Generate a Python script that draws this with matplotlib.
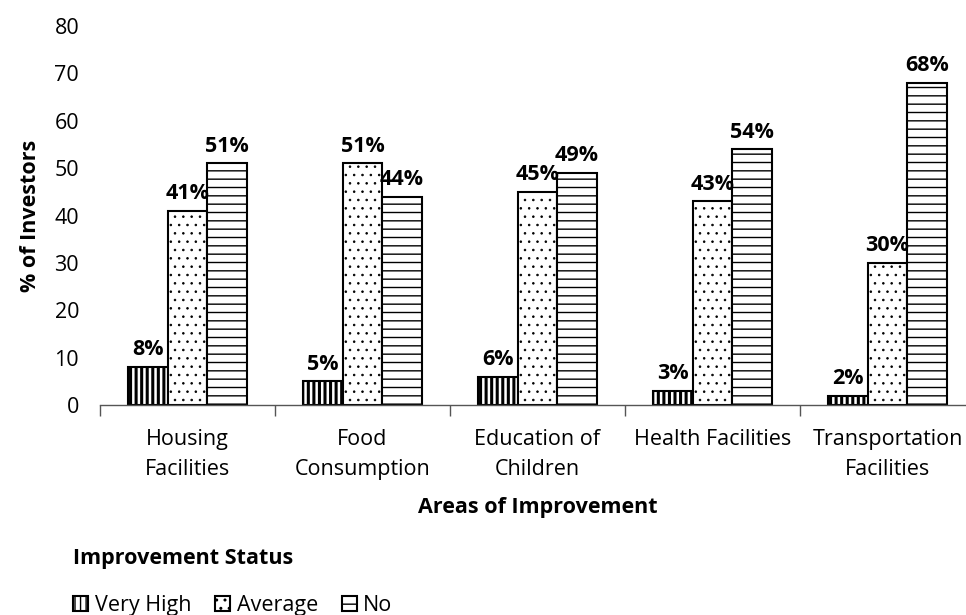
import numpy as np
import matplotlib
matplotlib.use("Agg")
import matplotlib.pyplot as plt

categories = ["Housing\nFacilities", "Food\nConsumption", "Education of\nChildren",
              "Health Facilities", "Transportation\nFacilities"]
very_high = [8, 5, 6, 3, 2]
average = [41, 51, 45, 43, 30]
no = [51, 44, 49, 54, 68]
series_names = ["Very High", "Average", "No"]

plt.rcParams["font.family"] = ["Open Sans", "DejaVu Sans"]
FS = 15.5

W, H = 966, 615
fig = plt.figure(figsize=(W / 100, H / 100), dpi=100)
ax = fig.add_axes([100 / W, (H - 405) / H, 875 / W, (405 - 26) / H])

x = np.arange(len(categories))
bw = 0.225
styles = [("|||", 2.2), ("..", 0.6), ("--", 1.0)]
bars_all = []
for i, (vals, (hatch, hlw)) in enumerate(zip([very_high, average, no], styles)):
    plt.rcParams["hatch.linewidth"] = hlw
    bars = ax.bar(x + (i - 1) * bw, vals, bw, color="white", edgecolor="black",
                  linewidth=1.5, hatch=hatch, label=series_names[i])
    bars_all.append(bars)
    for b, v in zip(bars, vals):
        ax.text(b.get_x() + b.get_width() / 2, v + 1.4, f"{v}%", ha="center",
                va="bottom", fontsize=FS, fontweight="bold")

ax.set_ylim(0, 80)
ax.set_xlim(-0.5, len(categories) - 0.5)
ax.set_yticks(range(0, 81, 10))
ax.tick_params(axis="y", length=0, labelsize=FS, pad=15)
ax.set_xticks(x)
ax.set_xticklabels(categories, fontsize=FS, linespacing=1.6)
ax.set_xticks(np.arange(-0.5, len(categories), 1), minor=True)
ax.tick_params(axis="x", which="major", length=0, pad=17)
ax.tick_params(axis="x", which="minor", length=8, width=1, color="#555555")
for s in ["top", "right", "left"]:
    ax.spines[s].set_visible(False)
ax.spines["bottom"].set_color("#555555")
ax.spines["bottom"].set_linewidth(1)

ax.set_ylabel("% of Investors", fontsize=FS, fontweight="bold", labelpad=10)
ax.set_xlabel("Areas of Improvement", fontsize=FS, fontweight="bold", labelpad=12)

leg = fig.legend(handles=[b[0] for b in bars_all], labels=series_names,
                 loc="lower left", bbox_to_anchor=(54 / W, -0.033), ncol=3,
                 frameon=False, fontsize=FS, title="Improvement Status",
                 title_fontproperties={"weight": "bold", "size": FS},
                 alignment="left", handlelength=0.7, handleheight=0.7,
                 handletextpad=0.3, columnspacing=1.1, labelspacing=0.3)
leg._legend_box.sep = 19

fig.savefig("out.png", dpi=100)
